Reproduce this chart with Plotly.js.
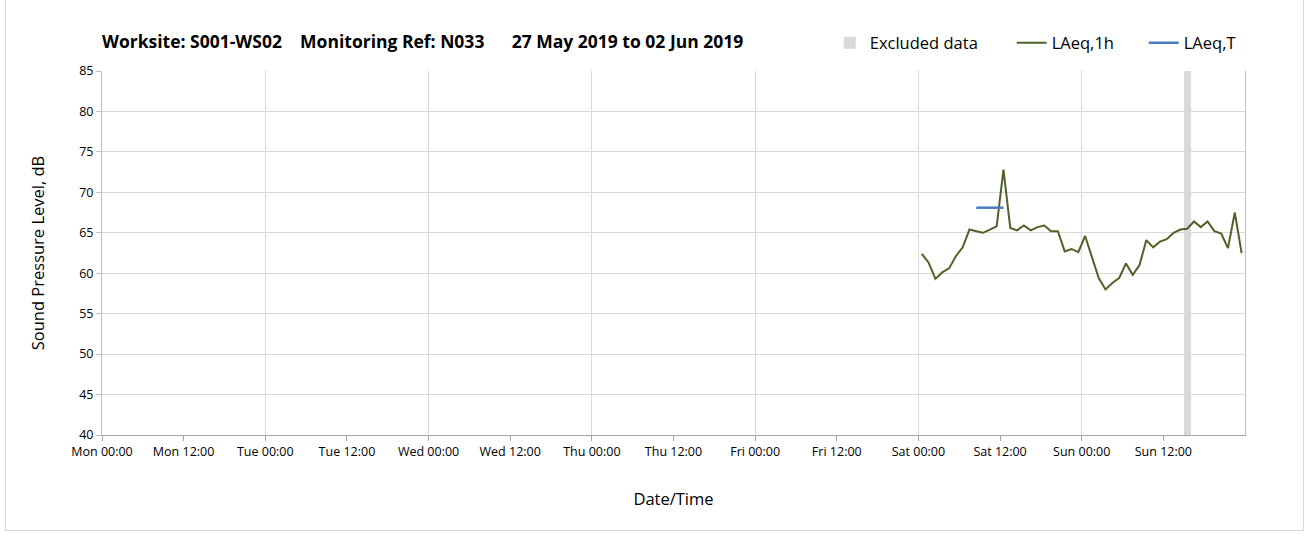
<!DOCTYPE html>
<html>
<head>
<meta charset="utf-8">
<script src="https://cdn.plot.ly/plotly-3.0.1.min.js"></script>
<style>
  html, body { margin: 0; padding: 0; background: #ffffff; }
  #wrap { position: relative; width: 1309px; height: 536px; }
  #chart { width: 1309px; height: 536px; }
  #frame { position: absolute; left: 5px; top: -1px; width: 1297px; height: 530px; border: 1px solid #d9d9d9; pointer-events: none; }
</style>
</head>
<body>
<div id="wrap">
  <div id="chart"></div>
  <div id="frame"></div>
</div>
<script>
// ---- data ----
const titleText = 'Worksite: S001-WS02\u00a0\u00a0\u00a0\u00a0Monitoring Ref: N033\u00a0\u00a0\u00a0\u00a0\u00a0\u00a027 May 2019 to 02 Jun 2019';

const hourlyTimes = [
  '2019-06-01 00:30','2019-06-01 01:30','2019-06-01 02:30','2019-06-01 03:30','2019-06-01 04:30','2019-06-01 05:30',
  '2019-06-01 06:30','2019-06-01 07:30','2019-06-01 08:30','2019-06-01 09:30','2019-06-01 10:30','2019-06-01 11:30',
  '2019-06-01 12:30','2019-06-01 13:30','2019-06-01 14:30','2019-06-01 15:30','2019-06-01 16:30','2019-06-01 17:30',
  '2019-06-01 18:30','2019-06-01 19:30','2019-06-01 20:30','2019-06-01 21:30','2019-06-01 22:30','2019-06-01 23:30',
  '2019-06-02 00:30','2019-06-02 01:30','2019-06-02 02:30','2019-06-02 03:30','2019-06-02 04:30','2019-06-02 05:30',
  '2019-06-02 06:30','2019-06-02 07:30','2019-06-02 08:30','2019-06-02 09:30','2019-06-02 10:30','2019-06-02 11:30',
  '2019-06-02 12:30','2019-06-02 13:30','2019-06-02 14:30','2019-06-02 15:30','2019-06-02 16:30','2019-06-02 17:30',
  '2019-06-02 18:30','2019-06-02 19:30','2019-06-02 20:30','2019-06-02 21:30','2019-06-02 22:30','2019-06-02 23:30'
];
const laeq1h = [
  62.4, 61.3, 59.3, 60.1, 60.6, 62.1, 63.2, 65.4, 65.2, 65.0, 65.4, 65.8,
  72.8, 65.6, 65.3, 65.9, 65.3, 65.7, 65.9, 65.2, 65.2, 62.7, 63.0, 62.6,
  64.6, 62.1, 59.4, 58.0, 58.8, 59.4, 61.2, 59.8, 61.0, 64.1, 63.2, 63.9,
  64.2, 65.0, 65.4, 65.5, 66.4, 65.7, 66.4, 65.2, 64.9, 63.1, 67.5, 62.5
];

const laeqTTimes = ['2019-06-01 08:30', '2019-06-01 12:30'];
const laeqT = [68.1, 68.1];

const excludedCentres = ['2019-06-02 15:30'];
const excludedWidthHours = [1];

const xRange = ['2019-05-27 00:00', '2019-06-03 00:00'];
const yRange = [40, 85];
const yTickStep = 5;

const tickLabels = [
  'Mon 00:00','Mon 12:00','Tue 00:00','Tue 12:00','Wed 00:00','Wed 12:00','Thu 00:00',
  'Thu 12:00','Fri 00:00','Fri 12:00','Sat 00:00','Sat 12:00','Sun 00:00','Sun 12:00'
];

// ---- build ----
const HOUR = 3600000;
const startMs = new Date(xRange[0].replace(' ', 'T') + ':00Z').getTime();
const toStr = ms => new Date(ms).toISOString().slice(0, 16).replace('T', ' ');
const tickVals = tickLabels.map((_, i) => toStr(startMs + i * 12 * HOUR));

const FONT = 'Open Sans, Lato, sans-serif';
const legendFont = { family: FONT, size: 16.5, color: '#000000' };

const traces = [
  {
    type: 'bar',
    name: 'Excluded data',
    legend: 'legend',
    x: excludedCentres,
    y: excludedCentres.map(() => yRange[1] - yRange[0]),
    base: excludedCentres.map(() => yRange[0]),
    width: excludedWidthHours.map(h => h * HOUR),
    marker: { color: '#d9d9d9', line: { width: 0 } },
    hoverinfo: 'skip'
  },
  {
    type: 'scatter',
    mode: 'lines',
    name: 'LAeq,1h',
    legend: 'legend2',
    x: hourlyTimes,
    y: laeq1h,
    line: { color: '#4f6228', width: 2 }
  },
  {
    type: 'scatter',
    mode: 'lines',
    name: 'LAeq,T',
    legend: 'legend3',
    x: laeqTTimes,
    y: laeqT,
    line: { color: '#4a7ebb', width: 2.5 }
  },
  {
    type: 'scatter',
    mode: 'lines',
    x: [],
    y: [],
    xaxis: 'x2',
    showlegend: false,
    hoverinfo: 'skip'
  }
];

const legendBase = {
  orientation: 'h',
  xanchor: 'left',
  y: 1.077, yanchor: 'middle',
  font: legendFont,
  bgcolor: 'rgba(0,0,0,0)',
  borderwidth: 0
};

const layout = {
  width: 1309,
  height: 536,
  paper_bgcolor: '#ffffff',
  plot_bgcolor: '#ffffff',
  margin: { l: 102, r: 64, t: 71, b: 101, pad: 0 },
  font: { family: FONT, color: '#000000', size: 12 },
  title: {
    text: '<b>' + titleText + '</b>',
    font: { family: FONT, size: 17.5, color: '#000000' },
    x: 0, xref: 'paper', xanchor: 'left',
    y: 1 - 42 / 536, yref: 'container', yanchor: 'middle'
  },
  showlegend: true,
  legend: Object.assign({}, legendBase, { x: 0.6367 }),
  legend2: Object.assign({}, legendBase, { x: 0.7959 }),
  legend3: Object.assign({}, legendBase, { x: 0.9114 }),
  bargap: 0,
  xaxis: {
    type: 'date',
    range: xRange,
    tickmode: 'array',
    tickvals: tickVals,
    ticktext: tickLabels,
    showgrid: false,
    zeroline: false,
    showline: true,
    linecolor: '#a6a6a6',
    linewidth: 1,
    ticks: 'outside',
    ticklen: 5,
    tickcolor: '#a6a6a6',
    tickfont: { family: FONT, size: 12.5, color: '#000000' },
    title: { text: 'Date/Time', font: { family: FONT, size: 16.5, color: '#000000' }, standoff: 34 }
  },
  xaxis2: {
    type: 'date',
    range: xRange,
    overlaying: 'x',
    anchor: 'y',
    side: 'bottom',
    dtick: 24 * HOUR,
    tick0: xRange[0],
    showgrid: true,
    gridcolor: '#d9d9d9',
    gridwidth: 1,
    showticklabels: false,
    ticks: '',
    showline: false,
    zeroline: false
  },
  yaxis: {
    range: yRange,
    dtick: yTickStep,
    tick0: yRange[0],
    showgrid: true,
    gridcolor: '#d9d9d9',
    gridwidth: 1,
    zeroline: false,
    showline: true,
    mirror: true,
    linecolor: '#bfbfbf',
    linewidth: 1,
    ticks: 'outside',
    ticklen: 5,
    tickcolor: '#bfbfbf',
    tickfont: { family: FONT, size: 12.5, color: '#000000' },
    title: { text: 'Sound Pressure Level, dB', font: { family: FONT, size: 16.5, color: '#000000' }, standoff: 30 }
  }
};

Plotly.newPlot('chart', traces, layout, { displayModeBar: false, staticPlot: true });
</script>
</body>
</html>
